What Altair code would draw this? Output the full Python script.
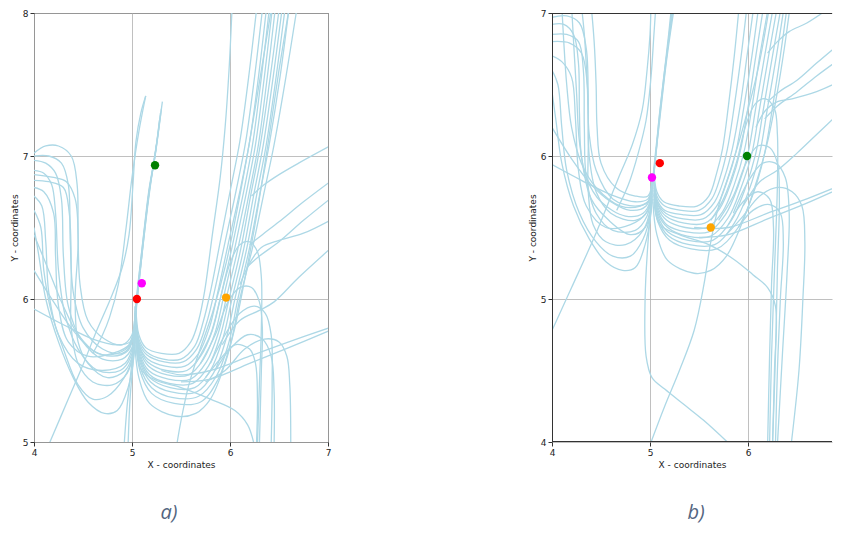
import altair as alt
import pandas as pd

# ---------------- Panel a) : trajectories (x, y) ----------------
A_LEFT_LOOPS = [
    [(4.0,7.02),(4.12,7.07),(4.25,7.07),(4.38,7.0),(4.44,6.8),(4.45,6.45),(4.47,6.1),(4.55,5.85),(4.72,5.72),(4.9,5.68),(5.0,5.75),(5.03,5.95)],
    [(4.0,7.0),(4.15,7.0),(4.28,6.95),(4.35,6.8),(4.37,6.4),(4.4,6.05),(4.5,5.8),(4.7,5.65),(4.9,5.62),(5.0,5.7),(5.03,5.9)],
    [(4.0,6.97),(4.12,6.95),(4.22,6.88),(4.28,6.7),(4.3,6.3),(4.35,5.95),(4.48,5.72),(4.7,5.58),(4.9,5.58),(5.0,5.66),(5.03,5.85)],
    [(4.0,6.9),(4.1,6.88),(4.18,6.8),(4.22,6.6),(4.25,6.2),(4.32,5.88),(4.45,5.65),(4.65,5.5),(4.88,5.5),(4.99,5.6),(5.03,5.82)],
    [(4.0,6.87),(4.2,6.85),(4.33,6.82),(4.42,6.7),(4.45,6.4),(4.42,6.0),(4.45,5.7),(4.55,5.55),(4.75,5.45),(4.93,5.5),(5.01,5.62),(5.03,5.8)],
    [(4.0,6.83),(4.15,6.82),(4.3,6.78),(4.36,6.6),(4.38,6.2),(4.38,5.8),(4.45,5.55),(4.6,5.42),(4.8,5.4),(4.95,5.48),(5.02,5.65),(5.03,5.78)],
    [(4.0,6.78),(4.1,6.75),(4.2,6.6),(4.22,6.3),(4.25,5.95),(4.35,5.7),(4.55,5.6),(4.8,5.62),(4.97,5.68),(5.03,5.88)],
    [(4.0,6.72),(4.08,6.65),(4.12,6.4),(4.15,6.05),(4.25,5.75),(4.45,5.55),(4.7,5.5),(4.93,5.55),(5.02,5.7),(5.03,5.83)],
    [(4.0,6.62),(4.07,6.5),(4.1,6.2),(4.18,5.9),(4.3,5.65),(4.45,5.4),(4.6,5.3),(4.75,5.32),(4.92,5.45),(5.01,5.6),(5.03,5.76)],
    [(4.0,6.5),(4.05,6.3),(4.12,6.0),(4.25,5.7),(4.4,5.45),(4.55,5.28),(4.72,5.2),(4.85,5.22),(4.96,5.38),(5.02,5.6),(5.03,5.74)],
    [(4.0,6.45),(4.15,6.2),(4.3,5.95),(4.45,5.75),(4.65,5.62),(4.85,5.62),(4.98,5.68),(5.03,5.9)],
]
A_LEFT_LINES = [
    [(4.0,6.2),(4.2,5.98),(4.4,5.78),(4.6,5.64),(4.8,5.6),(4.96,5.64),(5.03,5.8)],
    [(4.0,5.93),(4.3,5.82),(4.6,5.72),(4.85,5.68),(4.98,5.7),(5.03,5.85)],
    [(4.92,4.98),(4.95,5.25),(4.99,5.5),(5.02,5.7),(5.03,5.88)],
    [(4.96,4.98),(4.98,5.3),(5.01,5.55),(5.03,5.75)],
]
A_NEEDLE = [
    [(5.03,5.9),(5.06,6.1),(5.11,6.4),(5.17,6.75),(5.22,6.95),(5.27,7.18),(5.31,7.38)],
    [(5.03,5.85),(5.07,6.12),(5.12,6.42),(5.17,6.72),(5.22,6.94),(5.26,7.12),(5.3,7.33)],
    [(5.04,5.95),(5.07,6.15),(5.12,6.45),(5.18,6.78),(5.23,6.98),(5.28,7.25)],
    [(5.03,5.8),(5.06,6.05),(5.1,6.3),(5.16,6.65),(5.21,6.9),(5.25,7.08)],
    [(5.03,5.88),(5.07,6.1),(5.13,6.5),(5.19,6.82),(5.24,7.02),(5.29,7.3)],
    [(4.15,4.98),(4.35,5.3),(4.5,5.54),(4.64,5.78),(4.78,6.0),(4.9,6.22),(4.97,6.45),(5.01,6.8),(5.04,7.1),(5.09,7.3),(5.14,7.42)],
    [(4.6,5.62),(4.7,5.75),(4.77,5.87),(4.86,6.1),(4.94,6.5),(5.0,6.85),(5.07,7.17),(5.14,7.42)],
]
A_RIGHT_BRANCH = [
    [(5.04,5.95),(5.07,5.75),(5.14,5.66),(5.3,5.62),(5.48,5.62),(5.6,5.7),(5.68,5.85),(5.74,6.05),(5.82,6.45),(5.9,6.85),(5.95,7.2),(5.99,7.6),(6.02,8.02)],
    [(5.04,5.92),(5.07,5.72),(5.15,5.63),(5.32,5.58),(5.5,5.58),(5.64,5.67),(5.73,5.85),(5.8,6.05),(5.9,6.4),(6.0,6.75),(6.1,7.1),(6.19,7.55),(6.27,8.02)],
    [(5.04,5.9),(5.07,5.7),(5.15,5.61),(5.33,5.56),(5.52,5.56),(5.66,5.65),(5.76,5.83),(5.84,6.05),(5.95,6.4),(6.06,6.75),(6.16,7.1),(6.25,7.55),(6.33,8.02)],
    [(5.04,5.88),(5.07,5.68),(5.16,5.58),(5.34,5.53),(5.54,5.53),(5.68,5.62),(5.79,5.8),(5.87,6.03),(5.98,6.38),(6.1,6.75),(6.2,7.1),(6.29,7.55),(6.37,8.02)],
    [(5.04,5.86),(5.08,5.66),(5.16,5.56),(5.35,5.5),(5.56,5.5),(5.7,5.6),(5.82,5.78),(5.9,6.0),(6.02,6.36),(6.13,6.72),(6.23,7.08),(6.32,7.55),(6.4,8.02)],
    [(5.04,5.84),(5.08,5.64),(5.17,5.53),(5.36,5.47),(5.58,5.47),(5.73,5.58),(5.85,5.77),(5.93,6.0),(6.05,6.36),(6.16,6.72),(6.26,7.08),(6.35,7.55),(6.43,8.02)],
    [(5.04,5.82),(5.08,5.62),(5.17,5.5),(5.37,5.44),(5.6,5.44),(5.76,5.56),(5.88,5.76),(5.96,6.0),(6.08,6.35),(6.19,6.72),(6.29,7.08),(6.38,7.55),(6.46,8.02)],
    [(5.04,5.8),(5.08,5.6),(5.18,5.47),(5.38,5.41),(5.62,5.41),(5.78,5.53),(5.9,5.74),(5.99,6.0),(6.11,6.35),(6.21,6.72),(6.31,7.08),(6.41,7.55),(6.5,8.02)],
    [(5.04,5.78),(5.08,5.58),(5.18,5.45),(5.39,5.38),(5.64,5.38),(5.8,5.5),(5.93,5.73),(6.02,6.0),(6.14,6.35),(6.24,6.72),(6.34,7.08),(6.44,7.55),(6.53,8.02)],
    [(5.04,5.76),(5.08,5.56),(5.19,5.42),(5.4,5.35),(5.66,5.35),(5.83,5.48),(5.96,5.72),(6.05,6.0),(6.17,6.35),(6.27,6.72),(6.37,7.08),(6.47,7.55),(6.56,8.02)],
    [(5.04,5.74),(5.08,5.53),(5.2,5.38),(5.42,5.31),(5.68,5.32),(5.86,5.46),(5.99,5.7),(6.08,6.0),(6.2,6.36),(6.3,6.72),(6.4,7.08),(6.51,7.55),(6.6,8.02)],
    [(5.04,5.72),(5.08,5.5),(5.2,5.34),(5.43,5.27),(5.7,5.28),(5.88,5.44),(6.01,5.7),(6.1,6.0),(6.23,6.36),(6.34,6.72),(6.45,7.08),(6.57,7.55),(6.68,8.02)],
    [(5.03,5.68),(5.07,5.45),(5.18,5.27),(5.45,5.18),(5.65,5.2),(5.8,5.3),(5.95,5.55),(6.05,5.8),(6.14,6.1),(6.25,6.5),(6.38,7.05),(6.5,7.6),(6.6,8.02)],
    [(5.04,5.7),(5.1,5.5),(5.25,5.43),(5.5,5.38),(5.8,5.3),(6.05,5.22),(6.18,5.12),(6.24,5.0),(6.25,4.95)],
    [(5.45,4.95),(5.5,5.15),(5.58,5.4),(5.68,5.62),(5.82,5.9),(5.96,6.25),(6.08,6.65),(6.2,7.1),(6.32,7.6),(6.42,8.02)],
]
A_RIGHT_EDGE = [
    [(7.02,7.07),(6.7,6.95),(6.5,6.87),(6.35,6.8),(6.22,6.72)],
    [(7.02,6.82),(6.75,6.68),(6.5,6.54),(6.33,6.45),(6.2,6.38)],
    [(7.02,6.7),(6.75,6.55),(6.5,6.4),(6.3,6.3),(6.17,6.22)],
    [(7.02,6.55),(6.75,6.46),(6.5,6.41),(6.32,6.36),(6.2,6.25),(6.1,6.1)],
    [(7.02,6.35),(6.7,6.15),(6.45,5.98),(6.3,5.92),(6.1,5.85),(5.92,5.68)],
    [(7.02,5.8),(6.6,5.7),(6.2,5.6),(5.8,5.5),(5.5,5.47),(5.3,5.5)],
    [(7.02,5.78),(6.6,5.66),(6.2,5.55),(5.8,5.44),(5.5,5.42)],
]
A_RIGHT_LOOPS = [
    [(6.28,4.98),(6.3,5.4),(6.32,5.8),(6.32,6.15),(6.28,6.33),(6.2,6.4),(6.1,6.38),(6.0,6.25),(5.9,6.0),(5.8,5.75),(5.65,5.55)],
    [(6.3,4.98),(6.32,5.5),(6.33,5.8),(6.3,5.98),(6.22,6.08),(6.1,6.08),(5.98,5.98),(5.85,5.75),(5.7,5.55)],
    [(6.42,4.98),(6.43,5.4),(6.42,5.75),(6.36,5.9),(6.25,5.95),(6.1,5.9),(5.95,5.75),(5.8,5.55)],
    [(6.45,4.98),(6.45,5.35),(6.42,5.6),(6.33,5.72),(6.18,5.75),(6.0,5.65),(5.85,5.5)],
    [(6.62,4.98),(6.61,5.4),(6.58,5.6),(6.5,5.7),(6.35,5.72),(6.15,5.65),(5.95,5.5),(5.75,5.42)],
    [(6.27,4.98),(6.28,5.3),(6.26,5.55),(6.2,5.65),(6.05,5.68),(5.9,5.58),(5.75,5.45)],
]
A_POINTS_X = [5.05, 5.10, 5.235, 5.96]
A_POINTS_Y = [6.00, 6.11, 6.935, 6.01]

# ---------------- Panel b) ----------------
B_LEFT_LOOPS = [
    [(4.4,7.05),(4.43,6.8),(4.45,6.5),(4.46,6.2),(4.5,5.95),(4.65,5.78),(4.85,5.72),(4.98,5.72),(5.02,5.85)],
    [(4.3,7.05),(4.33,6.85),(4.36,6.5),(4.38,6.15),(4.45,5.9),(4.62,5.7),(4.85,5.65),(4.98,5.68),(5.02,5.82)],
    [(4.0,6.97),(4.15,6.98),(4.28,6.93),(4.35,6.75),(4.37,6.4),(4.38,6.0),(4.45,5.75),(4.6,5.6),(4.85,5.55),(4.98,5.62),(5.02,5.8)],
    [(4.0,6.85),(4.15,6.85),(4.27,6.8),(4.32,6.6),(4.33,6.2),(4.35,5.85),(4.45,5.6),(4.62,5.48),(4.85,5.48),(4.97,5.58),(5.02,5.78)],
    [(4.0,6.8),(4.18,6.79),(4.3,6.72),(4.36,6.5),(4.37,6.1),(4.37,5.75),(4.42,5.52),(4.55,5.4),(4.75,5.38),(4.93,5.48),(5.01,5.65),(5.02,5.76)],
    [(4.0,6.7),(4.1,6.66),(4.2,6.55),(4.24,6.25),(4.27,5.9),(4.35,5.65),(4.55,5.5),(4.8,5.52),(4.96,5.6),(5.02,5.8)],
    [(4.0,6.6),(4.06,6.5),(4.1,6.2),(4.15,5.9),(4.28,5.6),(4.45,5.4),(4.62,5.3),(4.8,5.3),(4.93,5.42),(5.01,5.62),(5.02,5.74)],
    [(4.0,6.45),(4.04,6.25),(4.1,5.95),(4.22,5.65),(4.38,5.42),(4.55,5.26),(4.72,5.2),(4.85,5.22),(4.95,5.38),(5.01,5.6),(5.02,5.72)],
    [(4.1,7.05),(4.12,6.8),(4.15,6.5),(4.2,6.2),(4.3,5.95),(4.45,5.78),(4.7,5.65),(4.9,5.65),(5.0,5.7),(5.02,5.88)],
    [(4.2,7.05),(4.22,6.8),(4.25,6.45),(4.28,6.1),(4.35,5.85),(4.5,5.68),(4.75,5.58),(4.93,5.6),(5.01,5.7),(5.02,5.84)],
    [(4.0,6.92),(4.12,6.92),(4.22,6.85),(4.27,6.65),(4.28,6.3),(4.3,6.0),(4.4,5.7),(4.58,5.55),(4.8,5.45),(4.95,5.5),(5.02,5.7)],
]
B_LEFT_LINES = [
    [(4.0,6.2),(4.2,5.98),(4.4,5.8),(4.6,5.68),(4.8,5.62),(4.96,5.65),(5.02,5.8)],
    [(4.0,5.94),(4.3,5.83),(4.6,5.73),(4.85,5.68),(4.98,5.7),(5.02,5.84)],
    [(3.98,4.75),(4.2,5.08),(4.43,5.43),(4.55,5.63),(4.68,5.85),(4.82,6.08),(4.92,6.32),(4.97,6.6),(5.0,6.85),(5.01,7.05)],
    [(4.66,5.62),(4.78,5.8),(4.88,6.02),(4.96,6.25),(5.01,6.55),(5.04,6.85),(5.06,7.05)],
    [(5.02,5.7),(4.98,5.4),(4.95,5.0),(4.96,4.6),(5.02,4.45),(5.15,4.37),(5.35,4.26),(5.55,4.15),(5.82,3.98)],
    [(5.0,3.98),(5.15,4.25),(5.3,4.5),(5.45,4.78),(5.55,5.1),(5.62,5.4),(5.7,5.65),(5.82,5.9),(5.95,6.2),(6.1,6.6),(6.22,7.05)],
]
B_NEEDLE = [
    [(5.03,5.85),(5.06,6.05),(5.1,6.3),(5.15,6.6),(5.2,6.85),(5.24,7.05)],
    [(5.03,5.8),(5.06,6.02),(5.1,6.28),(5.15,6.58),(5.19,6.82),(5.23,7.05)],
    [(5.04,5.9),(5.07,6.08),(5.11,6.32),(5.16,6.62),(5.21,6.87),(5.25,7.05)],
    [(5.03,5.82),(5.06,6.0),(5.09,6.25),(5.14,6.55),(5.19,6.85),(5.22,7.05)],
]
B_RIGHT_BRANCH = [
    [(5.04,5.92),(5.07,5.75),(5.14,5.68),(5.3,5.65),(5.48,5.65),(5.6,5.72),(5.68,5.88),(5.74,6.05),(5.8,6.35),(5.86,6.7),(5.91,7.05)],
    [(5.04,5.9),(5.07,5.72),(5.15,5.65),(5.32,5.62),(5.5,5.62),(5.63,5.7),(5.72,5.86),(5.79,6.05),(5.86,6.35),(5.93,6.7),(5.99,7.05)],
    [(5.04,5.88),(5.07,5.7),(5.15,5.62),(5.33,5.59),(5.52,5.59),(5.66,5.68),(5.76,5.85),(5.84,6.05),(5.92,6.35),(5.99,6.7),(6.06,7.05)],
    [(5.04,5.86),(5.07,5.68),(5.16,5.6),(5.34,5.56),(5.54,5.56),(5.68,5.65),(5.79,5.83),(5.88,6.04),(5.96,6.35),(6.04,6.7),(6.11,7.05)],
    [(5.04,5.84),(5.08,5.66),(5.16,5.58),(5.35,5.53),(5.56,5.53),(5.71,5.63),(5.83,5.82),(5.92,6.03),(6.0,6.34),(6.08,6.7),(6.16,7.05)],
    [(5.04,5.82),(5.08,5.64),(5.17,5.55),(5.36,5.5),(5.58,5.5),(5.74,5.61),(5.86,5.8),(5.96,6.03),(6.04,6.34),(6.12,6.7),(6.21,7.05)],
    [(5.04,5.8),(5.08,5.62),(5.17,5.52),(5.37,5.47),(5.6,5.47),(5.77,5.59),(5.9,5.79),(6.0,6.02),(6.08,6.34),(6.17,6.7),(6.26,7.05)],
    [(5.04,5.78),(5.08,5.6),(5.18,5.5),(5.38,5.44),(5.62,5.44),(5.8,5.57),(5.93,5.78),(6.04,6.02),(6.12,6.34),(6.21,6.7),(6.3,7.05)],
    [(5.04,5.76),(5.08,5.58),(5.18,5.47),(5.39,5.41),(5.64,5.41),(5.83,5.55),(5.97,5.77),(6.08,6.02),(6.16,6.34),(6.25,6.7),(6.34,7.05)],
    [(5.04,5.74),(5.08,5.56),(5.19,5.44),(5.4,5.38),(5.66,5.38),(5.86,5.53),(6.01,5.76),(6.12,6.02),(6.2,6.34),(6.29,6.7),(6.37,7.05)],
    [(5.04,5.73),(5.08,5.54),(5.2,5.41),(5.42,5.35),(5.68,5.35),(5.9,5.5),(6.06,5.75),(6.17,6.02),(6.25,6.34),(6.33,6.7),(6.4,7.05)],
    [(5.03,5.68),(5.07,5.45),(5.18,5.27),(5.45,5.18),(5.62,5.2),(5.78,5.3),(5.95,5.55),(6.1,5.85),(6.2,6.1),(6.3,6.45),(6.37,6.75),(6.43,7.05)],
    [(5.04,5.7),(5.1,5.52),(5.3,5.45),(5.6,5.38),(5.85,5.28),(6.05,5.17),(6.2,5.08),(6.28,4.95),(6.27,4.5),(6.25,3.98)],
]
B_RIGHT_EDGE = [
    [(6.8,7.02),(6.6,6.93),(6.42,6.87),(6.3,6.8),(6.2,6.72)],
    [(6.96,6.8),(6.7,6.65),(6.5,6.53),(6.32,6.45),(6.2,6.38)],
    [(6.96,6.69),(6.7,6.56),(6.5,6.45),(6.3,6.35),(6.17,6.26)],
    [(6.96,6.53),(6.7,6.45),(6.45,6.4),(6.3,6.38),(6.18,6.32),(6.08,6.2)],
    [(6.96,6.32),(6.7,6.15),(6.5,6.02),(6.3,5.9),(6.12,5.82),(5.95,5.65)],
    [(6.96,5.8),(6.6,5.7),(6.2,5.6),(5.8,5.5),(5.45,5.5)],
    [(6.96,5.78),(6.6,5.67),(6.2,5.56),(5.8,5.45),(5.5,5.43)],
]
B_RIGHT_LOOPS = [
    [(6.22,3.98),(6.24,4.6),(6.27,5.2),(6.3,5.8),(6.3,6.15),(6.27,6.33),(6.18,6.4),(6.08,6.37),(5.98,6.22),(5.88,5.95),(5.75,5.7),(5.62,5.55)],
    [(6.25,3.98),(6.28,4.6),(6.3,5.2),(6.32,5.7),(6.3,5.95),(6.22,6.06),(6.1,6.07),(5.98,5.95),(5.85,5.72),(5.7,5.55)],
    [(6.3,3.98),(6.35,4.6),(6.4,5.2),(6.42,5.6),(6.38,5.85),(6.28,5.95),(6.15,5.95),(6.0,5.82),(5.85,5.6)],
    [(6.44,3.98),(6.52,4.5),(6.56,5.0),(6.58,5.4),(6.55,5.65),(6.45,5.75),(6.3,5.78),(6.12,5.72),(5.95,5.58),(5.78,5.45)],
    [(6.2,3.98),(6.22,4.6),(6.24,5.1),(6.26,5.5),(6.22,5.7),(6.1,5.75),(5.95,5.68),(5.8,5.52)],
    [(6.28,3.98),(6.3,4.5),(6.33,5.0),(6.36,5.4),(6.33,5.6),(6.22,5.66),(6.05,5.62),(5.9,5.5)],
]
B_POINTS_X = [5.10, 5.02, 5.99, 5.62]
B_POINTS_Y = [5.95, 5.85, 6.00, 5.50]

POINT_COLORS = ["#ff0000", "#ff00ff", "#008000", "#ffa500"]
LINE_COLOR = "#add8e6"
TEXT_COLOR = "#222222"
FRAME_COLOR = "#333333"
PLOT_H = 429


def line_rows(prefix, families):
    rows = []
    for fam_name, curves in families:
        for i, curve in enumerate(curves):
            for j, (x, y) in enumerate(curve):
                rows.append({"cid": f"{prefix}-{fam_name}-{i}", "seq": j, "x": x, "y": y})
    return pd.DataFrame(rows)


def point_rows(xs, ys):
    return pd.DataFrame({"x": xs, "y": ys, "c": POINT_COLORS})


def axis(title, values):
    return alt.Axis(
        values=values, title=title, format="d", grid=True, gridColor="#b0b0b0",
        gridWidth=0.8, domain=False, ticks=True, tickColor=FRAME_COLOR, tickSize=4,
        labelFont="DejaVu Sans", labelFontSize=9, labelColor=TEXT_COLOR,
        labelPadding=2, labelFlush=False,
        titleFont="DejaVu Sans", titleFontSize=9, titleFontWeight="normal",
        titleColor=TEXT_COLOR, titlePadding=3,
    )


def panel(lines_df, pts_df, xdom, ydom, xvals, yvals, width, label, dx, open_right):
    xs = alt.Scale(domain=xdom, nice=False, zero=False)
    ys = alt.Scale(domain=ydom, nice=False, zero=False)
    lines = alt.Chart(lines_df).mark_line(
        interpolate="catmull-rom", color=LINE_COLOR, strokeWidth=1.3, clip=True
    ).encode(
        x=alt.X("x:Q", scale=xs, axis=axis("X - coordinates", xvals)),
        y=alt.Y("y:Q", scale=ys, axis=axis("Y - coordinates", yvals)),
        detail="cid:N",
        order="seq:Q",
    )
    pts = alt.Chart(pts_df).mark_circle(size=70, opacity=1, clip=True).encode(
        x="x:Q", y="y:Q", color=alt.Color("c:N", scale=None)
    )
    layers = [lines, pts]
    if open_right:
        # the picture is cut at the right edge: frame only on top, bottom and left
        one = pd.DataFrame({"k": [0]})
        rule = alt.Chart(one).mark_rule(color=FRAME_COLOR, strokeWidth=1)
        layers += [
            rule.encode(x=alt.value(0), x2=alt.value(width), y=alt.value(0.5)),
            rule.encode(x=alt.value(0), x2=alt.value(width), y=alt.value(PLOT_H - 0.5)),
            rule.encode(x=alt.value(0.5), y=alt.value(0), y2=alt.value(PLOT_H)),
        ]
        view = alt.ViewBackground(stroke="transparent")
    else:
        view = alt.ViewBackground(stroke=FRAME_COLOR, strokeWidth=1)
    return alt.layer(*layers).properties(
        width=width, height=PLOT_H, view=view,
        title=alt.TitleParams(
            text=label, orient="bottom", anchor="middle", font="Open Sans",
            fontStyle="italic", fontWeight="normal", fontSize=20,
            color="#536580", offset=34, dx=dx,
        ),
    )


a_lines = line_rows("a", [("L", A_LEFT_LOOPS), ("LL", A_LEFT_LINES), ("N", A_NEEDLE),
                          ("R", A_RIGHT_BRANCH), ("E", A_RIGHT_EDGE), ("D", A_RIGHT_LOOPS)])
b_lines = line_rows("b", [("L", B_LEFT_LOOPS), ("LL", B_LEFT_LINES), ("N", B_NEEDLE),
                          ("R", B_RIGHT_BRANCH), ("E", B_RIGHT_EDGE), ("D", B_RIGHT_LOOPS)])

pa = panel(a_lines, point_rows(A_POINTS_X, A_POINTS_Y), [4, 7], [5, 8], [4, 5, 6, 7], [5, 6, 7, 8],
           294, "a)", -12, False)
pb = panel(b_lines, point_rows(B_POINTS_X, B_POINTS_Y), [4, 6.857], [4, 7], [4, 5, 6], [4, 5, 6, 7],
           280, "b)", 4, True)

chart = alt.hconcat(pa, pb, spacing=195).properties(
    padding={"left": 1, "top": 0, "right": 0, "bottom": 0},
    background="white",
)

chart.save("out.html", embed_options={"renderer": "svg", "actions": False})
